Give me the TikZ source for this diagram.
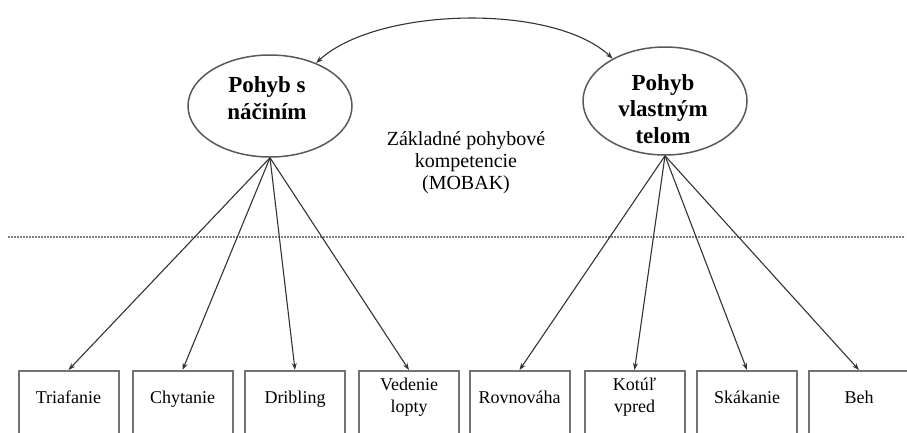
\documentclass[tikz,border=0pt]{standalone}
\usepackage{fontspec}
\setmainfont{Liberation Serif}
\usepackage{tikz}
\usetikzlibrary{arrows.meta,positioning,shapes.geometric}

\begin{document}
\begin{tikzpicture}[x=1pt,y=-1pt,
  every node/.style={inner sep=0pt},
  oval/.style={ellipse,draw=black!65,line width=1.5pt},
  ovaltext/.style={font=\fontsize{23}{26.5}\selectfont\bfseries,align=center},
  itembox/.style={draw=black!55,line width=2pt,anchor=north,minimum width=100pt,minimum height=75pt},
  itemtext/.style={font=\fontsize{18}{22}\selectfont,align=center,
    execute at begin node=\strut,execute at end node=\strut},
  arr/.style={draw=black!80,line width=1.1pt,-{Stealth[length=7pt,width=5pt]}}]
 \useasboundingbox (0,0) rectangle (907,432);
 % latent factors
 \node[oval,minimum width=164pt,minimum height=102pt] (nacinie) at (270,106) {};
 \node[ovaltext] (nacinietext) at (267,98) {Pohyb s\\náčiním};
 \node[oval,minimum width=164pt,minimum height=108pt] (telo) at (665,101) {};
 \node[ovaltext] (telotext) at (663,109) {Pohyb\\vlastným\\telom};
 \node[font=\fontsize{20}{22}\selectfont,align=center] (mobak) at (466,163) {Základné pohybové\\kompetencie\\(MOBAK)};
 \draw[arr,{Stealth[length=7pt,width=5pt]}-{Stealth[length=7pt,width=5pt]}]
   (nacinie.43) .. controls +(60,-56) and +(-60,-56) .. (telo.141);
 % separator
 \draw[black!50,line width=2.5pt,dash pattern=on 2pt off 1pt] (8,237) -- (905,237);
 % indicators
 \foreach \n/\x/\t in {triafanie/68.5/Triafanie,chytanie/182.5/Chytanie,dribling/295/Dribling,
   vedenie/409/{Vedenie\\lopty},rovnovaha/519.5/Rovnováha,kotul/634.5/{Kotúľ\\vpred},
   skakanie/747/Skákanie,beh/859/Beh}{
   \node[itembox] (\n) at (\x,370) {};
   \node[itemtext] (\n text) at (\x,399) {\t};
 }
 \foreach \b in {triafanie,chytanie,dribling,vedenie}
   \draw[arr] (nacinie.south) -- (\b.north);
 \foreach \b in {rovnovaha,kotul,skakanie,beh}
   \draw[arr] (telo.south) -- (\b.north);
\end{tikzpicture}
\end{document}
